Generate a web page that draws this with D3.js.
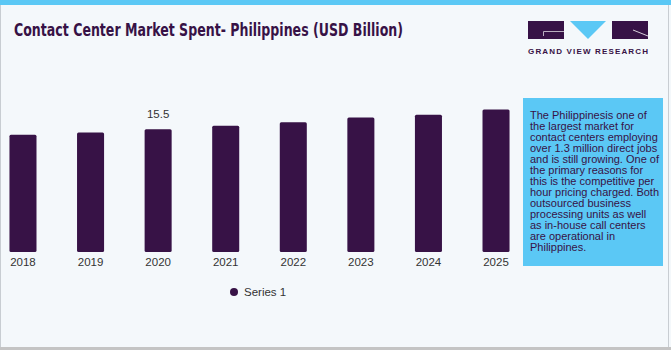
<!DOCTYPE html>
<html lang="en">
<head>
  <meta charset="utf-8">
  <title>Contact Center Market Spent - Philippines</title>
  <script src="https://d3js.org/d3.v7.min.js"></script>
  <style type="text/css">
    body { margin: 0; background: #ffffff; }
  </style>
</head>
<body>
  <script type="text/javascript">

const years = ["2018", "2019", "2020", "2021", "2022", "2023", "2024", "2025"];
const spend = [14.8, 15.1, 15.5, 15.95, 16.4, 17.0, 17.35, 18.0];
const labelled = ["2020"];
const seriesName = "Series 1";
const noteLines = [
  "The Philippinesis one of",
  "the largest market for",
  "contact centers employing",
  "over 1.3 million direct jobs",
  "and is still growing. One of",
  "the primary reasons for",
  "this is the competitive per",
  "hour pricing charged. Both",
  "outsourced business",
  "processing units as well",
  "as in-house call centers",
  "are operational in",
  "Philippines."
];

const width = 671, height = 350;
const purple = "#371246", blue = "#5bc8f5";

const svg = d3.select("body").append("svg")
    .attr("width", width)
    .attr("height", height);

// background + frame
svg.append("rect").attr("width", width).attr("height", height).attr("fill", "#f4f8fb");
svg.append("rect").attr("x", 0.5).attr("y", 0).attr("width", width - 3).attr("height", height - 2)
    .attr("fill", "none").attr("stroke", "#c8cdd2").attr("stroke-width", 1);
svg.append("rect").attr("x", 0).attr("y", height - 3).attr("width", width).attr("height", 3).attr("fill", "#c4c4c4");
svg.append("rect").attr("width", width).attr("height", 5).attr("fill", blue);

// condensed heavy title: squeeze a bold face to the width of the original
svg.append("text")
    .attr("x", 14).attr("y", 35.5)
    .attr("textLength", 389)
    .attr("lengthAdjust", "spacingAndGlyphs")
    .style("font-family", "'DejaVu Sans', sans-serif")
    .style("font-weight", "bold")
    .style("font-size", "18px")
    .attr("fill", purple)
    .text("Contact Center Market Spent- Philippines (USD Billion)");

// logo
const logo = svg.append("g");
logo.append("rect").attr("x", 528).attr("y", 21).attr("width", 36).attr("height", 18).attr("fill", purple);
logo.append("path").attr("d", "M564,31.5 H543.5 V36").attr("fill", "none").attr("stroke", "#b9aebf").attr("stroke-width", 1);
logo.append("path").attr("d", "M570,21 L606,21 L588,39 Z").attr("fill", blue);
logo.append("rect").attr("x", 612).attr("y", 21).attr("width", 36).attr("height", 18).attr("fill", purple);
logo.append("path").attr("d", "M633,30 L648,36").attr("stroke", "#d8d0dc").attr("stroke-width", 1);
logo.append("text")
    .attr("x", 528).attr("y", 54)
    .attr("textLength", 120)
    .attr("lengthAdjust", "spacing")
    .style("font-family", "'Liberation Sans', sans-serif")
    .style("font-weight", "bold")
    .style("font-size", "8px")
    .attr("fill", purple)
    .text("GRAND VIEW RESEARCH");

// bars
const x = d3.scaleBand()
    .domain(years)
    .range([0, 519])
    .paddingInner(0.6)
    .paddingOuter(0.14);

const y = d3.scaleLinear()
    .domain([0, 15.5])
    .range([252, 129.3]);

svg.selectAll("rect.bar")
    .data(years)
    .enter()
    .append("rect")
    .attr("class", "bar")
    .attr("x", d => x(d))
    .attr("y", (d, i) => y(spend[i]))
    .attr("width", x.bandwidth())
    .attr("height", (d, i) => y(0) - y(spend[i]))
    .attr("rx", 1.5)
    .attr("fill", purple);

svg.selectAll("text.val")
    .data(years.filter(d => labelled.includes(d)))
    .enter()
    .append("text")
    .attr("class", "val")
    .attr("x", d => x(d) + x.bandwidth() / 2)
    .attr("y", d => y(spend[years.indexOf(d)]) - 11)
    .attr("text-anchor", "middle")
    .style("font-family", "'Liberation Sans', Arial, sans-serif")
    .style("font-size", "11.5px")
    .attr("fill", "#333")
    .text(d => spend[years.indexOf(d)]);

const xAxis = svg.append("g")
    .attr("transform", "translate(0,252)")
    .call(d3.axisBottom(x).tickSize(0).tickPadding(6));
xAxis.select(".domain").remove();
xAxis.selectAll("text")
    .style("font-family", "'Liberation Sans', Arial, sans-serif")
    .style("font-size", "11.5px")
    .attr("fill", "#333");

// legend
svg.append("circle").attr("cx", 234).attr("cy", 292).attr("r", 4).attr("fill", purple);
svg.append("text")
    .attr("x", 244).attr("y", 296)
    .style("font-family", "'Liberation Sans', Arial, sans-serif")
    .style("font-size", "11.5px")
    .attr("fill", "#333")
    .text(seriesName);

// note box
svg.append("rect").attr("x", 523).attr("y", 98).attr("width", 140).attr("height", 168).attr("fill", blue);
const note = svg.append("text")
    .attr("x", 530).attr("y", 118.5)
    .style("font-family", "'Liberation Sans', sans-serif")
    .style("font-size", "11px")
    .attr("fill", purple);
note.selectAll("tspan")
    .data(noteLines)
    .enter()
    .append("tspan")
    .attr("x", 530)
    .attr("dy", (d, i) => i === 0 ? 0 : 11)
    .text(d => d);

  </script>
</body>
</html>
